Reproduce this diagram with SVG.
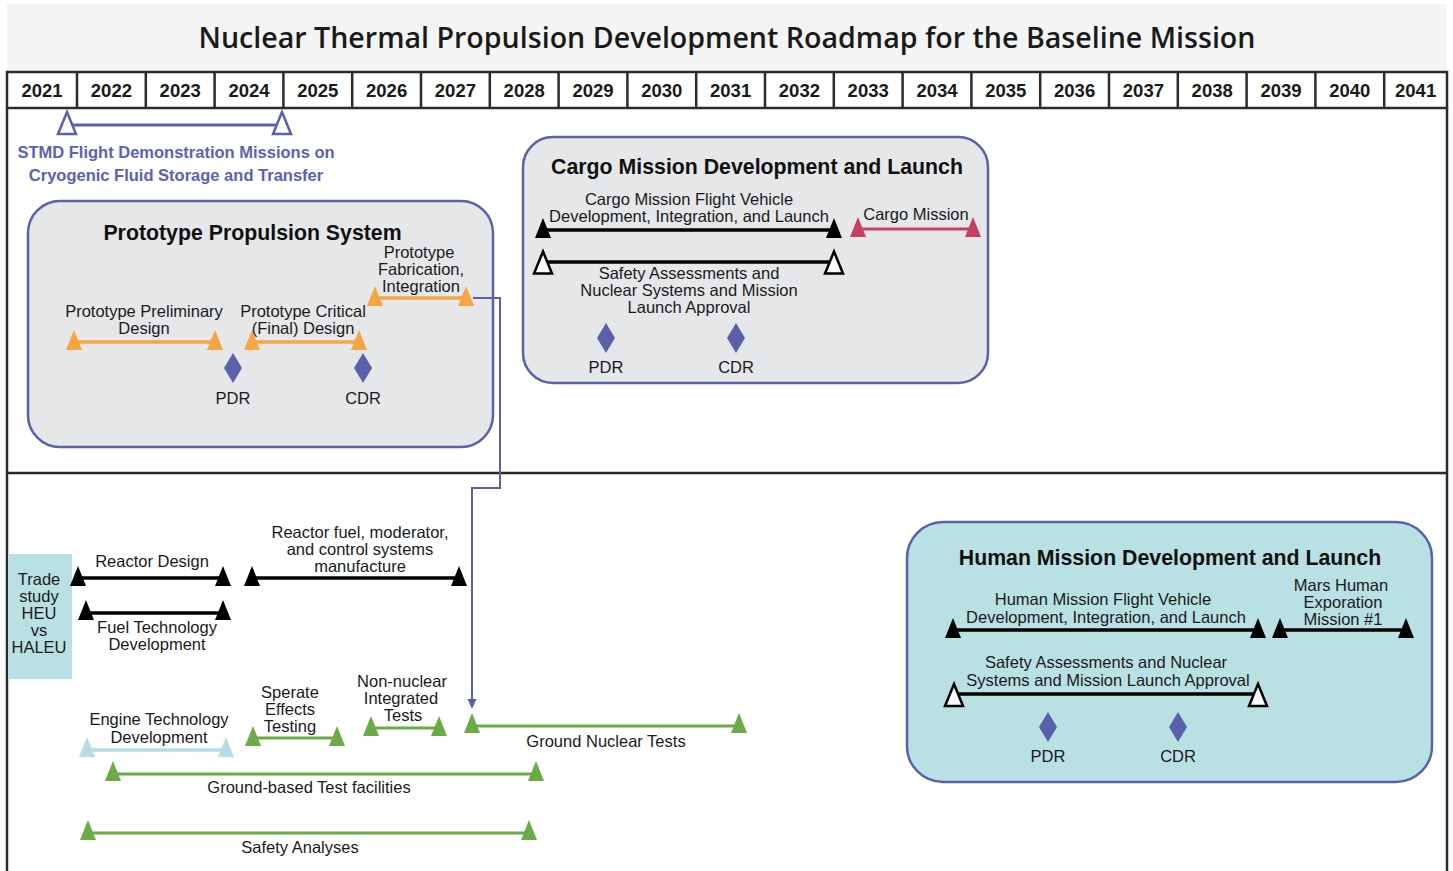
<svg xmlns="http://www.w3.org/2000/svg" xmlns:xlink="http://www.w3.org/1999/xlink" width="1453" height="871" viewBox="0 0 1453 871">
<style>
.t{font-family:"Liberation Sans",Arial,sans-serif;font-size:16.5px;fill:#1a1a1a;text-anchor:middle}
.h{font-family:"Liberation Sans",Arial,sans-serif;font-size:21.3px;font-weight:bold;fill:#111;text-anchor:middle}
.yr{font-family:"Liberation Sans",Arial,sans-serif;font-size:18.5px;font-weight:bold;fill:#1a1a1a;text-anchor:middle}
.stmd{font-family:"Liberation Sans",Arial,sans-serif;font-size:16.5px;font-weight:bold;fill:#5b62b3;text-anchor:middle}
.frame{stroke:#2b2b2b;stroke-width:2.5;fill:none}
.box{fill:#e6e7e9;stroke:#5b60ad;stroke-width:2.5}
.boxc{fill:#b9e0e3;stroke:#5b60ad;stroke-width:2.5}
.bk{stroke:#000;stroke-width:3.5}
.or{stroke:#f7a541;stroke-width:3.5}
.gr{stroke:#6bab45;stroke-width:3}
.lb{stroke:#b5dde3;stroke-width:3.5}
.rd{stroke:#c63f61;stroke-width:3}
.bl{stroke:#5b60ad;stroke-width:3}
.hol{fill:#fff;stroke:#000;stroke-width:2.5}
.dia{fill:#5b60ad}
</style>
<defs>
<path id="tf" d="M0,-12 L8,8 L-8,8 Z"/>
<path id="th" d="M0,-11 L9,11 L-9,11 Z"/>
<path id="dm" d="M0,-15 L9,0 L0,15 L-9,0 Z"/>
<marker id="arr" markerWidth="10" markerHeight="10" refX="2" refY="5" orient="auto" markerUnits="userSpaceOnUse">
<path d="M0,0.5 L10,5 L0,9.5 Z" fill="#5b60ad"/>
</marker>
</defs>

<g id="header">
<rect x="7" y="4" width="1440" height="68" fill="#f4f4f4"/>
<text x="727" y="48" font-family="'Open Sans','Liberation Sans',sans-serif" font-size="28.6" font-weight="600" fill="#1a1a1a" text-anchor="middle">Nuclear Thermal Propulsion Development Roadmap for the Baseline Mission</text>
</g>

<g id="timeline">
<rect x="7" y="72" width="1440" height="36" fill="#fff" class="frame"/>
<path class="frame" d="M77,72V108 M145.8,72V108 M214.6,72V108 M283.4,72V108 M352.2,72V108 M421,72V108 M489.8,72V108 M558.6,72V108 M627.4,72V108 M696.2,72V108 M765,72V108 M833.8,72V108 M902.6,72V108 M971.4,72V108 M1040.2,72V108 M1109,72V108 M1177.8,72V108 M1246.6,72V108 M1315.4,72V108 M1384.2,72V108"/>
<path class="frame" d="M7,108V871 M1447,108V871 M7,473H1447"/>
<text class="yr" x="42" y="97">2021</text>
<text class="yr" x="111.4" y="97">2022</text>
<text class="yr" x="180.2" y="97">2023</text>
<text class="yr" x="249" y="97">2024</text>
<text class="yr" x="317.8" y="97">2025</text>
<text class="yr" x="386.6" y="97">2026</text>
<text class="yr" x="455.4" y="97">2027</text>
<text class="yr" x="524.2" y="97">2028</text>
<text class="yr" x="593" y="97">2029</text>
<text class="yr" x="661.8" y="97">2030</text>
<text class="yr" x="730.6" y="97">2031</text>
<text class="yr" x="799.4" y="97">2032</text>
<text class="yr" x="868.2" y="97">2033</text>
<text class="yr" x="937" y="97">2034</text>
<text class="yr" x="1005.8" y="97">2035</text>
<text class="yr" x="1074.6" y="97">2036</text>
<text class="yr" x="1143.4" y="97">2037</text>
<text class="yr" x="1212.2" y="97">2038</text>
<text class="yr" x="1281" y="97">2039</text>
<text class="yr" x="1349.8" y="97">2040</text>
<text class="yr" x="1415.6" y="97">2041</text>
</g>

<g id="stmd">
<line class="bl" x1="67" y1="125" x2="282" y2="125"/>
<path d="M67,112 L76,134 L58,134 Z M282,112 L291,134 L273,134 Z" fill="#fff" stroke="#5b60ad" stroke-width="2.5"/>
<text class="stmd" x="176" y="158">STMD Flight Demonstration Missions on</text>
<text class="stmd" x="176" y="181">Cryogenic Fluid Storage and Transfer</text>
</g>

<g id="prototype">
<rect class="box" x="28" y="201" width="465" height="246" rx="32"/>
<text class="h" x="252.5" y="240">Prototype Propulsion System</text>
<line class="or" x1="74" y1="342" x2="215" y2="342"/>
<use xlink:href="#tf" x="74" y="342" fill="#f7a541"/>
<use xlink:href="#tf" x="215" y="342" fill="#f7a541"/>
<text class="t" x="144" y="317">Prototype Preliminary</text>
<text class="t" x="144" y="334">Design</text>
<line class="or" x1="252" y1="342" x2="359" y2="342"/>
<use xlink:href="#tf" x="252" y="342" fill="#f7a541"/>
<use xlink:href="#tf" x="359" y="342" fill="#f7a541"/>
<text class="t" x="303" y="317">Prototype Critical</text>
<text class="t" x="303" y="334">(Final) Design</text>
<line class="or" x1="375" y1="298" x2="466" y2="298"/>
<use xlink:href="#tf" x="375" y="298" fill="#f7a541"/>
<use xlink:href="#tf" x="466" y="298" fill="#f7a541"/>
<text class="t" x="419" y="258">Prototype</text>
<text class="t" x="421" y="275">Fabrication,</text>
<text class="t" x="421" y="292">Integration</text>
<use xlink:href="#dm" x="233" y="368" class="dia"/>
<use xlink:href="#dm" x="363" y="368" class="dia"/>
<text class="t" x="233" y="404">PDR</text>
<text class="t" x="363" y="404">CDR</text>
</g>

<g id="cargo">
<rect class="box" x="523" y="137" width="465" height="246" rx="30"/>
<text class="h" x="757" y="174">Cargo Mission Development and Launch</text>
<text class="t" x="689" y="205">Cargo Mission Flight Vehicle</text>
<text class="t" x="689" y="222">Development, Integration, and Launch</text>
<line class="bk" x1="543" y1="230" x2="834" y2="230"/>
<use xlink:href="#tf" x="543" y="230" fill="#000"/>
<use xlink:href="#tf" x="834" y="230" fill="#000"/>
<text class="t" x="916" y="220">Cargo Mission</text>
<line class="rd" x1="858" y1="229" x2="973" y2="229"/>
<use xlink:href="#tf" x="858" y="229" fill="#c63f61"/>
<use xlink:href="#tf" x="973" y="229" fill="#c63f61"/>
<line class="bk" x1="543" y1="262" x2="834" y2="262" stroke-width="3"/>
<use xlink:href="#th" x="543" y="262.5" class="hol"/>
<use xlink:href="#th" x="834" y="262.5" class="hol"/>
<text class="t" x="689" y="279">Safety Assessments and</text>
<text class="t" x="689" y="296">Nuclear Systems and Mission</text>
<text class="t" x="689" y="313">Launch Approval</text>
<use xlink:href="#dm" x="606" y="338" class="dia"/>
<use xlink:href="#dm" x="736" y="338" class="dia"/>
<text class="t" x="606" y="373">PDR</text>
<text class="t" x="736" y="373">CDR</text>
</g>

<g id="trade-study">
<rect x="8" y="554" width="64" height="125" fill="#b9e0e3"/>
<text class="t" x="39" y="585">Trade</text>
<text class="t" x="39" y="602">study</text>
<text class="t" x="39" y="619">HEU</text>
<text class="t" x="39" y="636">vs</text>
<text class="t" x="39" y="653">HALEU</text>
</g>

<g id="reactor-design">
<text class="t" x="152" y="567">Reactor Design</text>
<line class="bk" x1="78" y1="578" x2="223" y2="578"/>
<use xlink:href="#tf" x="78" y="578" fill="#000"/>
<use xlink:href="#tf" x="223" y="578" fill="#000"/>
</g>

<g id="fuel-technology">
<line class="bk" x1="86" y1="613" x2="223" y2="613"/>
<use xlink:href="#tf" x="86" y="612" fill="#000"/>
<use xlink:href="#tf" x="223" y="612" fill="#000"/>
<text class="t" x="157" y="633">Fuel Technology</text>
<text class="t" x="157" y="650">Development</text>
</g>

<g id="reactor-fuel">
<text class="t" x="360" y="538">Reactor fuel, moderator,</text>
<text class="t" x="360" y="555">and control systems</text>
<text class="t" x="360" y="572">manufacture</text>
<line class="bk" x1="252" y1="578" x2="459" y2="578"/>
<use xlink:href="#tf" x="252" y="578" fill="#000"/>
<use xlink:href="#tf" x="459" y="578" fill="#000"/>
</g>

<g id="engine-technology">
<text class="t" x="159" y="725">Engine Technology</text>
<text class="t" x="159" y="743">Development</text>
<line class="lb" x1="87" y1="750" x2="226" y2="750"/>
<use xlink:href="#tf" x="87" y="749" fill="#b5dde3"/>
<use xlink:href="#tf" x="226" y="749" fill="#b5dde3"/>
</g>

<g id="separate-effects">
<text class="t" x="290" y="698">Sperate</text>
<text class="t" x="290" y="715">Effects</text>
<text class="t" x="290" y="732">Testing</text>
<line class="gr" x1="253" y1="738" x2="337" y2="738"/>
<use xlink:href="#tf" x="253" y="738" fill="#6bab45"/>
<use xlink:href="#tf" x="337" y="738" fill="#6bab45"/>
</g>

<g id="non-nuclear">
<text class="t" x="402" y="687">Non-nuclear</text>
<text class="t" x="401" y="704">Integrated</text>
<text class="t" x="403" y="721">Tests</text>
<line class="gr" x1="371" y1="728" x2="439" y2="728"/>
<use xlink:href="#tf" x="371" y="728" fill="#6bab45"/>
<use xlink:href="#tf" x="439" y="728" fill="#6bab45"/>
</g>

<g id="ground-nuclear">
<line class="gr" x1="472" y1="726" x2="739" y2="726"/>
<use xlink:href="#tf" x="472" y="725" fill="#6bab45"/>
<use xlink:href="#tf" x="739" y="725" fill="#6bab45"/>
<text class="t" x="606" y="747">Ground Nuclear Tests</text>
</g>

<g id="ground-facilities">
<line class="gr" x1="113" y1="774" x2="536" y2="774"/>
<use xlink:href="#tf" x="113" y="773" fill="#6bab45"/>
<use xlink:href="#tf" x="536" y="773" fill="#6bab45"/>
<text class="t" x="309" y="793">Ground-based Test facilities</text>
</g>

<g id="safety-analyses">
<line class="gr" x1="88" y1="833" x2="529" y2="833"/>
<use xlink:href="#tf" x="88" y="832" fill="#6bab45"/>
<use xlink:href="#tf" x="529" y="832" fill="#6bab45"/>
<text class="t" x="300" y="853">Safety Analyses</text>
</g>

<g id="human">
<rect class="boxc" x="907" y="522" width="525" height="260" rx="36"/>
<text class="h" x="1170" y="565">Human Mission Development and Launch</text>
<text class="t" x="1103" y="605">Human Mission Flight Vehicle</text>
<text class="t" x="1106" y="623">Development, Integration, and Launch</text>
<line class="bk" x1="953" y1="630" x2="1258" y2="630"/>
<use xlink:href="#tf" x="953" y="630" fill="#000"/>
<use xlink:href="#tf" x="1258" y="630" fill="#000"/>
<text class="t" x="1341" y="591">Mars Human</text>
<text class="t" x="1343" y="608">Exporation</text>
<text class="t" x="1343" y="625">Mission #1</text>
<line class="bk" x1="1280" y1="630" x2="1406" y2="630"/>
<use xlink:href="#tf" x="1280" y="630" fill="#000"/>
<use xlink:href="#tf" x="1406" y="630" fill="#000"/>
<text class="t" x="1106" y="668">Safety Assessments and Nuclear</text>
<text class="t" x="1108" y="686">Systems and Mission Launch Approval</text>
<line class="bk" x1="954" y1="694" x2="1258" y2="694" stroke-width="3"/>
<use xlink:href="#th" x="954" y="695" class="hol"/>
<use xlink:href="#th" x="1258" y="695" class="hol"/>
<use xlink:href="#dm" x="1048" y="727" class="dia"/>
<use xlink:href="#dm" x="1178" y="727" class="dia"/>
<text class="t" x="1048" y="762">PDR</text>
<text class="t" x="1178" y="762">CDR</text>
</g>

<g id="connectors">
<path d="M473,298 H500 V488 H472 V701" fill="none" stroke="#5b60ad" stroke-width="2" marker-end="url(#arr)"/>
</g>
</svg>
